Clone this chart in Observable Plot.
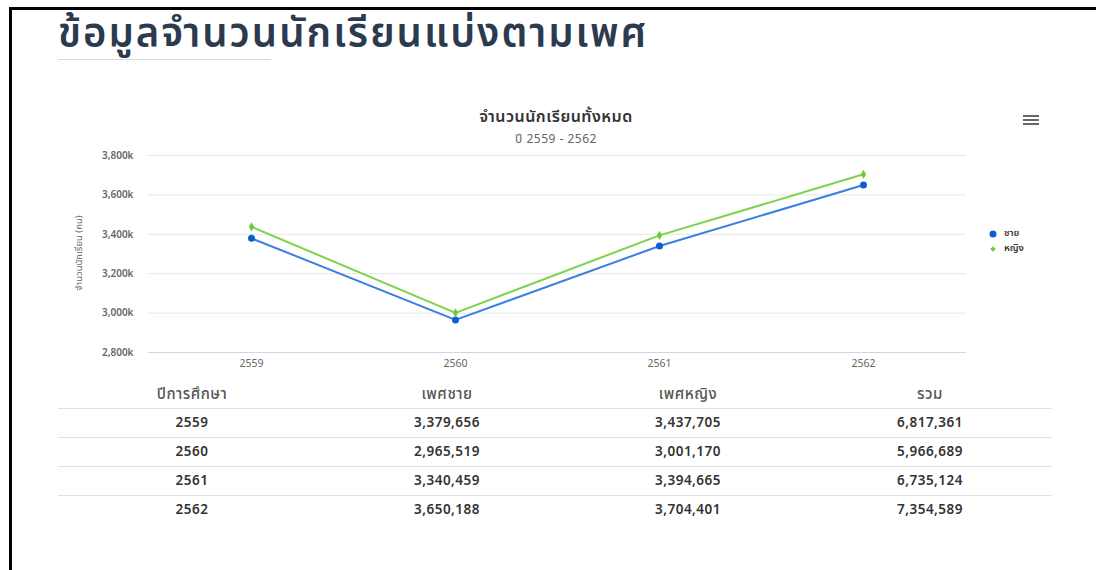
<!DOCTYPE html>
<html>
<head>
<meta charset="utf-8">
<script src="https://cdn.jsdelivr.net/npm/d3@7"></script>
<script src="https://cdn.jsdelivr.net/npm/@observablehq/plot@0.6"></script>
<style>
  html, body { margin: 0; padding: 0; background: #fff; }
  body { width: 1096px; height: 570px; overflow: hidden; position: relative;
         font-family: "Noto Sans Thai", "Noto Sans", "DejaVu Sans", sans-serif; }
  .frame { position: absolute; left: 9px; top: 7px; width: 1100px; height: 600px;
           border-top: 3px solid #000; border-left: 3px solid #000; }
  .pagetitle { position: absolute; left: 58px; top: 7px; font-size: 40px; font-weight: 600;
               letter-spacing: 2px; color: #2b3a4e; white-space: nowrap; line-height: 56px; }
  .rule { position: absolute; left: 58px; top: 59px; width: 213px; height: 1px; background: #d9d9d9; }
  .ctitle { position: absolute; left: 356px; width: 400px; text-align: center; top: 106px;
            font-size: 16px; font-weight: 600; color: #333; letter-spacing: 0.5px; line-height: 22px; }
  .csub { position: absolute; left: 356px; width: 400px; text-align: center; top: 131px;
          font-size: 12px; color: #666; letter-spacing: 0.5px; line-height: 16px; }
  .ylabel { position: absolute; left: 79px; top: 253px; font-size: 9.5px; color: #666;
            transform: translate(-50%, -50%) rotate(-90deg); white-space: nowrap; }
  .menu { position: absolute; left: 1023px; top: 115px; width: 16px; }
  .menu div { height: 2px; background: #666; margin-bottom: 2px; }
  .legend { position: absolute; left: 988px; top: 226px; font-size: 9.5px; font-weight: 600; color: #333; }
  .legend .item { display: flex; align-items: center; height: 15px; }
  .legend span { line-height: 11px; }
  .legend svg { margin-right: 6px; }
  #chart { position: absolute; left: 0; top: 0; }
  table { position: absolute; left: 58px; top: 380px; width: 994px; border-collapse: collapse;
          table-layout: fixed; }
  th { font-size: 15px; font-weight: 500; color: #555; height: 28px; text-align: center;
       border-bottom: 1px solid #e2e2e2; padding: 0; letter-spacing: 0.5px; }
  td { font-size: 13.5px; font-weight: 600; color: #333; height: 28px; text-align: center;
       border-bottom: 1px solid #e2e2e2; padding: 0; letter-spacing: 0.5px; }
  tr:last-child td { border-bottom: none; }
</style>
</head>
<body>
<div class="frame"></div>
<div class="pagetitle">ข้อมูลจำนวนนักเรียนแบ่งตามเพศ</div>
<div class="rule"></div>
<div id="chart"></div>
<div class="ctitle">จำนวนนักเรียนทั้งหมด</div>
<div class="csub">ปี 2559 - 2562</div>
<div class="ylabel">จำนวนนักเรียน (คน)</div>
<div class="menu"><div></div><div></div><div></div></div>
<div class="legend" id="legend"></div>
<table id="tbl"></table>
<script>
const years = ["2559", "2560", "2561", "2562"];
const male = [3379656, 2965519, 3340459, 3650188];
const female = [3437705, 3001170, 3394665, 3704401];
const seriesNames = ["ชาย", "หญิง"];
const yTicks = [2800, 3000, 3200, 3400, 3600, 3800];
const colHeaders = ["ปีการศึกษา", "เพศชาย", "เพศหญิง", "รวม"];

const lineColors = ["#3b7fe0", "#7fd24c"];
const dotColors = ["#0b5fd3", "#6fcb3c"];

const rows = years.flatMap((y, i) => [
  {year: y, sex: seriesNames[0], k: male[i] / 1000},
  {year: y, sex: seriesNames[1], k: female[i] / 1000}
]);
const mRows = rows.filter(d => d.sex === seriesNames[0]);
const fRows = rows.filter(d => d.sex === seriesNames[1]);

const fmt = d3.format(",");
const chart = Plot.plot({
  width: 1096,
  height: 380,
  marginLeft: 148,
  marginRight: 130,
  marginTop: 155,
  marginBottom: 28,
  style: {background: "transparent", fontFamily: "'Noto Sans Thai', 'Noto Sans', sans-serif"},
  x: {type: "point", domain: years, padding: 0.5},
  y: {domain: [2800, 3800]},
  marks: [
    Plot.gridY(yTicks, {stroke: "#e6e6e6", strokeOpacity: 1}),
    Plot.ruleY([2800], {stroke: "#ccd6eb"}),
    Plot.axisY(yTicks, {tickSize: 0, tickPadding: 15, tickFormat: d => fmt(d) + "k",
      fontSize: 10, fill: "#666", label: null, fontWeight: 600, letterSpacing: 1}),
    Plot.axisX({tickSize: 0, tickPadding: 7, fontSize: 10.5, fill: "#666", label: null, letterSpacing: 0.5}),
    Plot.line(mRows, {x: "year", y: "k", stroke: lineColors[0], strokeWidth: 2}),
    Plot.line(fRows, {x: "year", y: "k", stroke: lineColors[1], strokeWidth: 2}),
    Plot.dot(mRows, {x: "year", y: "k", r: 3.5, fill: dotColors[0], symbol: "circle"}),
    Plot.dot(fRows, {x: "year", y: "k", r: 2.8, fill: dotColors[1], symbol: "diamond"})
  ]
});
document.getElementById("chart").append(chart);

// legend
const legend = document.getElementById("legend");
seriesNames.forEach((name, i) => {
  const item = document.createElement("div");
  item.className = "item";
  const sym = i === 0
    ? `<svg width="10" height="10"><circle cx="5" cy="5" r="3.5" fill="${dotColors[0]}"/></svg>`
    : `<svg width="10" height="10"><path d="M5 2.2L7.8 5L5 7.8L2.2 5Z" fill="${dotColors[1]}"/></svg>`;
  item.innerHTML = sym + `<span>${name}</span>`;
  legend.append(item);
});

// table
const tbl = document.getElementById("tbl");
const colWidths = [268, 242, 240, 244];
tbl.innerHTML = "<colgroup>" + colWidths.map(w => `<col style="width:${w}px">`).join("") + "</colgroup>" +
  "<tr>" + colHeaders.map(h => `<th>${h}</th>`).join("") + "</tr>" +
  years.map((y, i) => `<tr><td>${y}</td><td>${fmt(male[i])}</td><td>${fmt(female[i])}</td><td>${fmt(male[i] + female[i])}</td></tr>`).join("");
</script>
</body>
</html>
